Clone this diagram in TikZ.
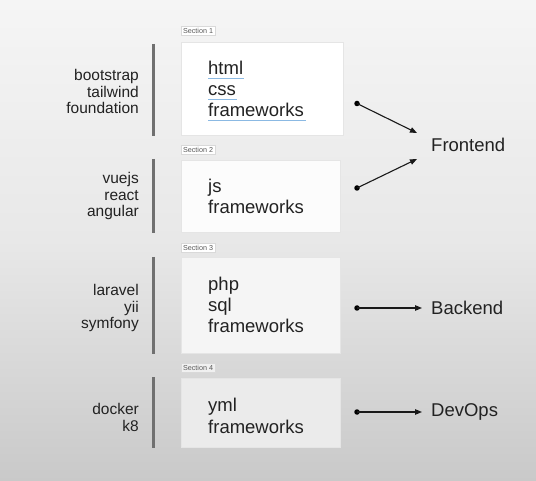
\documentclass[tikz,border=0pt]{standalone}
\usepackage{fontspec}
\setmainfont{Liberation Sans}
\usetikzlibrary{arrows.meta}
\definecolor{bgtop}{HTML}{F5F5F5}
\definecolor{bgmid}{HTML}{E8E8E8}
\definecolor{bgbot}{HTML}{C9C9C9}
\definecolor{txt}{HTML}{222222}
\definecolor{bar}{HTML}{707070}
\definecolor{squig}{HTML}{6FA8DC}
\begin{document}
\begin{tikzpicture}[x=1pt,y=-1pt,
  boxstyle/.style={draw=black!10, line width=0.7pt, anchor=north west, inner sep=0pt, minimum width=159pt},
  boxtext/.style={anchor=base west, align=left, inner sep=0pt, text=txt, font=\fontsize{18.5}{21.3}\selectfont},
  lefttext/.style={anchor=base east, align=right, inner sep=0pt, text=txt, font=\fontsize{15.5}{16.6}\selectfont},
  sectlabel/.style={anchor=west, draw=black!15, line width=0.4pt, fill=white, inner sep=1.8pt, text=black!65, font=\fontsize{7.2}{8}\selectfont},
  barline/.style={draw=bar, line width=2.6pt},
  dotstyle/.style={circle, fill=black, inner sep=0pt, minimum size=5.5pt},
  conn/.style={draw=black!90, line width=1.1pt, -{Triangle[length=7pt,width=5.5pt]}},
  targettext/.style={anchor=west, inner sep=0pt, text=txt, font=\fontsize{18.5}{21}\selectfont},
  squiggle/.style={draw=squig, line width=0.9pt, opacity=0.8}
]
\useasboundingbox (0,0) rectangle (536,481);
\shade[top color=bgtop, bottom color=bgmid] (0,0) rectangle (536,240);
\shade[top color=bgmid, bottom color=bgbot] (0,240) rectangle (536,481);

% boxes
\node[boxstyle, fill=white, minimum width=162pt, minimum height=93pt] (b1) at (181,42) {};
\node[boxstyle, fill=white!99!black, minimum height=72pt] (b2) at (181,160) {};
\node[boxstyle, fill=white!96!black, minimum height=96pt] (b3) at (181,257) {};
\node[boxstyle, fill=white!92!black, minimum height=69pt] (b4) at (181,378) {};

% section labels
\node[sectlabel] (s1) at (181,31) {Section 1};
\node[sectlabel] (s2) at (181,149.5) {Section 2};
\node[sectlabel] (s3) at (181,247.5) {Section 3};
\node[sectlabel, fill=white!94!black] (s4) at (181,368) {Section 4};

% box texts (anchor = baseline of last line)
\node[boxtext] (t1) at (208,117) {html\\css\\frameworks};
\node[boxtext] (t2) at (208,214) {js\\frameworks};
\node[boxtext] (t3) at (208,333) {php\\sql\\frameworks};
\node[boxtext] (t4) at (208,433) {yml\\frameworks};

% spell-check underlines
\coordinate (u1a) at (208,78); \coordinate (u1b) at (244,78);
\coordinate (u2a) at (208,99); \coordinate (u2b) at (237,99);
\coordinate (u3a) at (208,120); \coordinate (u3b) at (306,120);
\draw[squiggle] (u1a) -- (u1b);
\draw[squiggle] (u2a) -- (u2b);
\draw[squiggle] (u3a) -- (u3b);

% bars
\coordinate (r1a) at (153.5,44); \coordinate (r1b) at (153.5,136);
\coordinate (r2a) at (153.5,159); \coordinate (r2b) at (153.5,233);
\coordinate (r3a) at (153.5,257); \coordinate (r3b) at (153.5,354);
\coordinate (r4a) at (153.5,377); \coordinate (r4b) at (153.5,448);
\draw[barline] (r1a) -- (r1b);
\draw[barline] (r2a) -- (r2b);
\draw[barline] (r3a) -- (r3b);
\draw[barline] (r4a) -- (r4b);

% left texts (anchor = baseline of last line)
\node[lefttext] (l1) at (139,114) {bootstrap\\tailwind\\foundation};
\node[lefttext] (l2) at (139,217) {vuejs\\react\\angular};
\node[lefttext] (l3) at (139,329) {laravel\\yii\\symfony};
\node[lefttext] (l4) at (139,431) {docker\\k8};

% dots
\node[dotstyle] (d1) at (357,103.5) {};
\node[dotstyle] (d2) at (357,188) {};
\node[dotstyle] (d3) at (357,308) {};
\node[dotstyle] (d4) at (357,412) {};

% targets
\node[targettext] (fe) at (431,145) {Frontend};
\node[targettext] (be) at (431,308) {Backend};
\node[targettext] (dv) at (431,411.5) {DevOps};

\coordinate (a1) at (417,133);
\coordinate (a2) at (417,159);
\coordinate (a3) at (422,308);
\coordinate (a4) at (422,412);
\draw[conn] (d1.center) -- (a1);
\draw[conn] (d2.center) -- (a2);
\draw[conn] (d3.center) -- (a3);
\draw[conn] (d4.center) -- (a4);
\end{tikzpicture}
\end{document}
